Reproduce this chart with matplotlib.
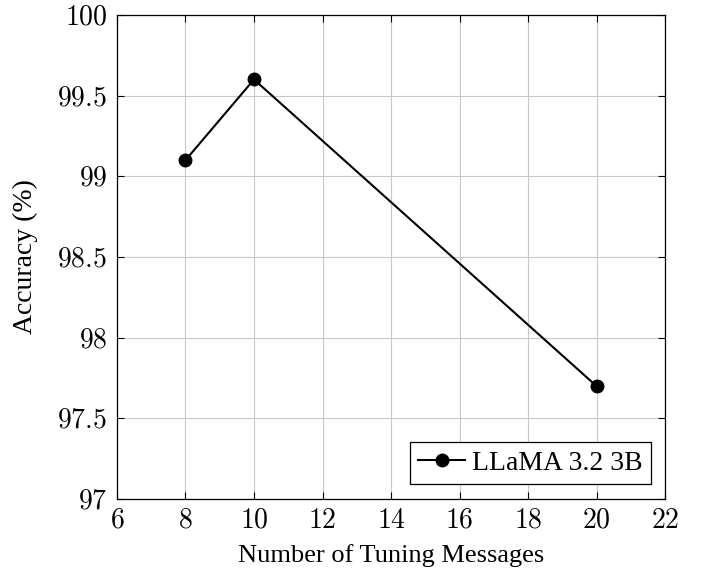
import matplotlib
matplotlib.use("Agg")
import matplotlib.pyplot as plt
from matplotlib.ticker import FuncFormatter

plt.rcParams['mathtext.fontset'] = 'cm'
plt.rcParams['font.family'] = 'Liberation Serif'

# datos
mensajes = [8, 10, 20]
precision = [99.1, 99.6, 97.7]
nombre_serie = 'LLaMA 3.2 3B'

x_ticks = [6, 8, 10, 12, 14, 16, 18, 20, 22]
y_ticks = [97, 97.5, 98, 98.5, 99, 99.5, 100]

fig = plt.figure(figsize=(7.06, 5.73), dpi=100)
ax = fig.add_axes([0.1657, 0.129, 0.7763, 0.845])

ax.plot(mensajes, precision, color='black', linewidth=1.5, marker='o',
        markersize=9, label=nombre_serie, zorder=3)

ax.set_xlim(6, 22)
ax.set_ylim(97, 100)
ax.set_xticks(x_ticks)
ax.set_yticks(y_ticks)
ax.xaxis.set_major_formatter(FuncFormatter(lambda v, p: r'$%g$' % v))
ax.yaxis.set_major_formatter(FuncFormatter(lambda v, p: r'$%g$' % v))
ax.tick_params(direction='in', length=5, width=0.8, labelsize=20, pad=7,
               top=True, right=True)
ax.grid(True, color='#c8c8c8', linewidth=0.8)
ax.set_axisbelow(True)
for s in ax.spines.values():
    s.set_linewidth(0.9)

ax.set_xlabel('Number of Tuning Messages', fontsize=19, labelpad=7)
ax.set_ylabel('Accuracy (%)', fontsize=20, labelpad=14)

leg = ax.legend(loc='lower right', fontsize=20, fancybox=False,
                edgecolor='black', framealpha=1, borderpad=0.3,
                handlelength=1.7, handletextpad=0.25, borderaxespad=0,
                bbox_to_anchor=(0.9745, 0.031))
leg.get_frame().set_linewidth(0.9)

plt.savefig('out.png', dpi=100)
